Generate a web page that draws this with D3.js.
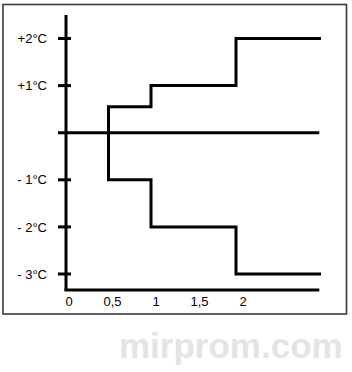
<!DOCTYPE html>
<html>
<head>
<meta charset="utf-8">
<script src="https://cdn.jsdelivr.net/npm/d3@7"></script>
<style>
  body { margin: 0; background: #fff; }
  text { font-family: "Liberation Sans", Arial, sans-serif; }
</style>
</head>
<body>
<svg id="chart" width="352" height="372"></svg>
<script>
// data
const stepX = [0.5, 0.5, 1, 2, 3];
const upperY = [0, 0.55, 1, 2, 2];
const lowerY = [0, -1, -2, -3, -3];
const xTicks = [0, 0.5, 1, 1.5, 2];
const xTickLabels = ["0", "0,5", "1", "1,5", "2"];
const yTicks = [2, 1, 0, -1, -2, -3];
const yTickLabels = ["+2°C", "+1°C", "", "- 1°C", "- 2°C", "- 3°C"];

const svg = d3.select("#chart");

const x = d3.scaleLinear().domain([0, 3]).range([66, 321]);
const y = d3.scaleLinear().domain([-3, 2]).range([274, 38.5]);

// frame
svg.append("rect")
  .attr("x", 3).attr("y", 4.5)
  .attr("width", 343.5).attr("height", 309.5)
  .attr("fill", "none")
  .attr("stroke", "#3a3a3a")
  .attr("stroke-width", 1.6);

// watermark
svg.append("text")
  .attr("x", 119).attr("y", 358)
  .attr("font-size", 35)
  .attr("font-weight", "bold")
  .attr("fill", "#e4e4e4")
  .text("mirprom.com");

const axisW = 3;

// y axis line
svg.append("line")
  .attr("x1", x(0)).attr("x2", x(0))
  .attr("y1", y(2.5)).attr("y2", 291)
  .attr("stroke", "#000").attr("stroke-width", axisW);

// x axis line
svg.append("line")
  .attr("x1", x(0) - 1.5).attr("x2", x(2.98))
  .attr("y1", 290).attr("y2", 290)
  .attr("stroke", "#000").attr("stroke-width", axisW);

// y ticks
svg.selectAll(".ytick")
  .data(yTicks)
  .join("line")
    .attr("class", "ytick")
    .attr("x1", 58)
    .attr("x2", d => d === 0 ? x(2.98) : 71)
    .attr("y1", d => y(d)).attr("y2", d => y(d))
    .attr("stroke", "#000").attr("stroke-width", axisW);

svg.selectAll(".ylab")
  .data(yTicks)
  .join("text")
    .attr("class", "ylab")
    .attr("x", 47)
    .attr("y", d => y(d))
    .attr("dy", "0.36em")
    .attr("text-anchor", "end")
    .attr("font-size", 13)
    .attr("fill", "#000")
    .text((d, i) => yTickLabels[i]);

// x labels
svg.selectAll(".xlab")
  .data(xTicks)
  .join("text")
    .attr("class", "xlab")
    .attr("x", d => x(d) + 3 + d * 2)
    .attr("y", 306)
    .attr("text-anchor", "middle")
    .attr("font-size", 13)
    .attr("fill", "#000")
    .text((d, i) => xTickLabels[i]);

// step lines
const line = d3.line()
  .x(d => x(d[0]))
  .y(d => y(d[1]))
  .curve(d3.curveStepAfter);

[upperY, lowerY].forEach(vals => {
  svg.append("path")
    .datum(stepX.map((v, i) => [v, vals[i]]))
    .attr("d", line)
    .attr("fill", "none")
    .attr("stroke", "#000")
    .attr("stroke-width", axisW)
    .attr("stroke-linejoin", "miter");
});
</script>
</body>
</html>
